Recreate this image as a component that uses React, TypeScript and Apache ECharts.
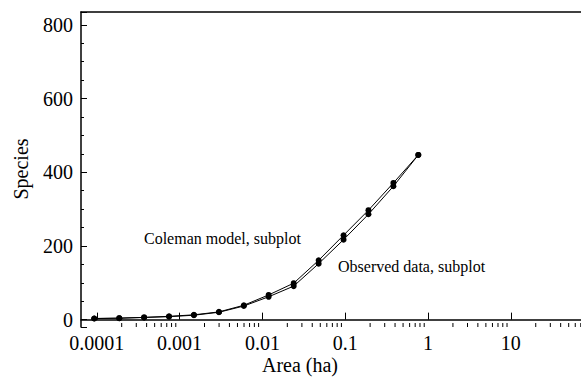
import React, { useEffect, useRef } from "react";
import * as echarts from "echarts";

const areas = [0.0000933, 0.000187, 0.000373, 0.000746, 0.00149, 0.00299, 0.00597, 0.0119, 0.0239, 0.0478, 0.0955, 0.191, 0.382, 0.764];
const colemanSpecies = [3, 4, 6, 9, 13, 21, 39, 67, 99, 161, 229, 297, 371, 447];
const observedSpecies = [3, 4, 6, 8, 12, 20, 37, 62, 91, 152, 217, 286, 362, 447];

const xMin = 0.0000645;
const xMax = 70.4;
const yMin = -20;
const yMax = 835;
const minorMultipliers = [2, 3, 4, 5, 6, 7, 8, 9];
const decades = [-4, -3, -2, -1, 0, 1];

const FONT = "Liberation Serif";

export default function App() {
  const ref = useRef<HTMLDivElement>(null);
  useEffect(() => {
    if (!ref.current) return;
    const chart = echarts.init(ref.current, undefined, { renderer: "svg" });
    const minorX: number[][] = [];
    decades.forEach((d) => {
      minorMultipliers.forEach((m) => {
        const v = m * Math.pow(10, d);
        if (v > 0.0001 && v < xMax) minorX.push([v, yMin]);
      });
    });
    const isPow10 = (v: number) => Math.abs(Math.log10(v) - Math.round(Math.log10(v))) < 1e-6;
    const lineSeries = (name: string, vals: number[]) => ({
      type: "line",
      name,
      data: areas.map((a, i) => [a, vals[i]]),
      symbol: "circle",
      symbolSize: 6,
      itemStyle: { color: "#000" },
      lineStyle: { color: "#000", width: 1 },
      z: 3,
    });
    chart.setOption({
      animation: false,
      textStyle: { fontFamily: FONT },
      grid: { left: 81, top: 12, right: 0, bottom: 53 },
      xAxis: [
        {
          type: "log",
          logBase: 10,
          min: xMin,
          max: xMax,
          axisLine: { show: true, lineStyle: { color: "#000", width: 1.5 } },
          axisTick: { show: true, inside: true, length: 7, lineStyle: { color: "#000", width: 1 } },
          minorTick: { show: false },
          splitLine: { show: false },
          axisLabel: {
            color: "#000",
            fontFamily: FONT,
            fontSize: 20,
            margin: 6,
            showMinLabel: false,
            showMaxLabel: false,
            formatter: (v: number) => (isPow10(v) ? String(+v.toPrecision(1)) : ""),
          },
        },
        {
          type: "log",
          logBase: 10,
          min: xMin,
          max: xMax,
          position: "top",
          axisLine: { show: true, lineStyle: { color: "#000", width: 1.5 } },
          axisTick: { show: false },
          axisLabel: { show: false },
          splitLine: { show: false },
        },
      ],
      yAxis: {
        type: "value",
        min: yMin,
        max: yMax,
        splitNumber: 4,
        axisLine: { show: true, lineStyle: { color: "#000", width: 1.5 } },
        axisTick: { show: true, inside: true, length: 6, lineStyle: { color: "#000", width: 1 } },
        minorTick: { show: true, splitNumber: 4, length: 3, lineStyle: { color: "#000", width: 1 } },
        splitLine: { show: false },
        axisLabel: {
          color: "#000",
          fontFamily: FONT,
          fontSize: 20,
          margin: 8,
          formatter: (v: number) => (v % 200 === 0 ? String(v) : ""),
        },
      },
      series: [
        {
          type: "custom",
          coordinateSystem: "cartesian2d",
          silent: true,
          clip: false,
          data: minorX,
          renderItem: (params: any, api: any) => {
            const p = api.coord([api.value(0), api.value(1)]);
            return {
              type: "line",
              shape: { x1: p[0], y1: p[1], x2: p[0], y2: p[1] - 4 },
              style: { stroke: "#000", lineWidth: 1 },
            };
          },
        },
        lineSeries("Coleman model, subplot", colemanSpecies),
        lineSeries("Observed data, subplot", observedSpecies),
      ],
      graphic: [
        {
          type: "text",
          x: 21,
          y: 169,
          rotation: Math.PI / 2,
          style: { text: "Species", fill: "#000", font: `20px ${FONT}`, textAlign: "center", textVerticalAlign: "middle" },
        },
        {
          type: "text",
          x: 300,
          y: 365,
          style: { text: "Area (ha)", fill: "#000", font: `20px ${FONT}`, textAlign: "center", textVerticalAlign: "middle" },
        },
        {
          type: "text",
          x: 144,
          y: 238,
          style: { text: "Coleman model, subplot", fill: "#000", font: `16px ${FONT}`, textAlign: "left", textVerticalAlign: "middle" },
        },
        {
          type: "text",
          x: 338,
          y: 266,
          style: { text: "Observed data, subplot", fill: "#000", font: `16px ${FONT}`, textAlign: "left", textVerticalAlign: "middle" },
        },
      ],
    });
    return () => chart.dispose();
  }, []);
  return (
    <div
      ref={ref}
      style={{ position: "fixed", left: 0, top: 0, width: 581, height: 380, background: "#fff" }}
    />
  );
}
